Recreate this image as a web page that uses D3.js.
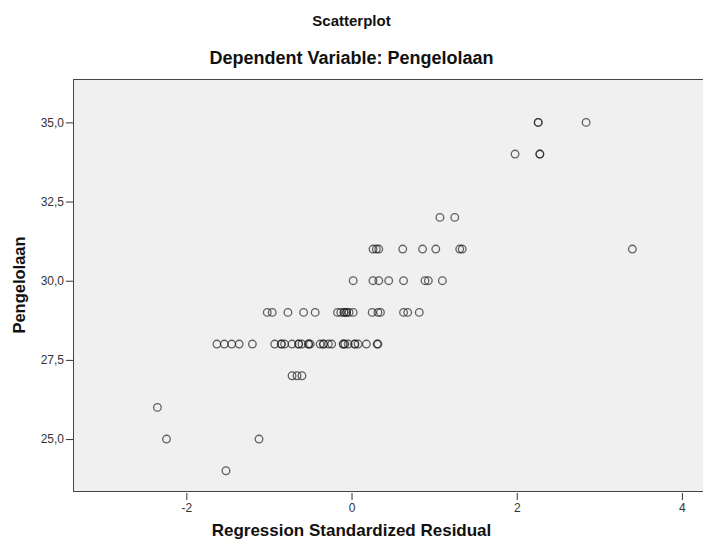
<!DOCTYPE html>
<html>
<head>
<meta charset="utf-8">
<script src="https://cdn.jsdelivr.net/npm/d3@7"></script>
<style>
  body { margin: 0; background: #fff; }
  svg { display: block; font-family: "Liberation Sans", Arial, sans-serif; }
</style>
</head>
<body>
<svg id="chart" width="703" height="542"></svg>
<script>
// values: standardized residual vs Pengelolaan
const residuals = [
  2.26, 2.26, 2.84,
  1.98, 2.28, 2.28,
  1.07, 1.25,
  0.26, 0.30, 0.33, 0.62, 0.86, 1.02, 1.31, 1.34, 3.40,
  0.02, 0.26, 0.33, 0.45, 0.63, 0.89, 0.93, 1.10,
  -1.02, -0.96, -0.77, -0.58, -0.44, -0.17, -0.13, -0.09, -0.09, -0.06, -0.06, -0.03, 0.02, 0.25, 0.32, 0.35, 0.63, 0.68, 0.82,
  -1.63, -1.54, -1.45, -1.36, -1.20, -0.93, -0.85, -0.85, -0.81, -0.72, -0.64, -0.64, -0.60, -0.52, -0.52, -0.50,
  -0.38, -0.34, -0.34, -0.28, -0.24, -0.10, -0.10, -0.08, -0.04, 0.04, 0.04, 0.08, 0.18, 0.31, 0.32,
  -0.72, -0.66, -0.60,
  -2.35,
  -2.24, -1.12,
  -1.52
];
const pengelolaan = [
  35, 35, 35,
  34, 34, 34,
  32, 32,
  31, 31, 31, 31, 31, 31, 31, 31, 31,
  30, 30, 30, 30, 30, 30, 30, 30,
  29, 29, 29, 29, 29, 29, 29, 29, 29, 29, 29, 29, 29, 29, 29, 29, 29, 29, 29,
  28, 28, 28, 28, 28, 28, 28, 28, 28, 28, 28, 28, 28, 28, 28, 28,
  28, 28, 28, 28, 28, 28, 28, 28, 28, 28, 28, 28, 28, 28, 28,
  27, 27, 27,
  26,
  25, 25,
  24
];
const xTicks = [-2, 0, 2, 4];
const yTicks = [25, 27.5, 30, 32.5, 35];

const chartTitle = "Scatterplot";
const chartSubtitle = "Dependent Variable: Pengelolaan";
const xTitle = "Regression Standardized Residual";
const yTitle = "Pengelolaan";

const box = { left: 73, top: 79, right: 710, bottom: 491 };

const svg = d3.select("#chart");

const x = d3.scaleLinear().domain([-3.372, 4.34]).range([box.left, box.right]);
const y = d3.scaleLinear().domain([23.36, 36.37]).range([box.bottom, box.top]);

const comma = d3.formatLocale({ decimal: ",", thousands: ".", grouping: [3], currency: ["", ""], minus: "-" });
const fmtY = comma.format(".1f");
const fmtX = comma.format("d");

// plot area
svg.append("rect")
  .attr("x", box.left + 0.5)
  .attr("y", box.top + 0.5)
  .attr("width", box.right - box.left)
  .attr("height", box.bottom - box.top)
  .attr("fill", "#f0f0f0")
  .attr("stroke", "#444")
  .attr("stroke-width", 1);

// axes
const xAxis = svg.append("g")
  .attr("transform", `translate(0,${box.bottom + 2})`)
  .call(d3.axisBottom(x).tickValues(xTicks).tickSize(7).tickPadding(3).tickFormat(fmtX));

const yAxis = svg.append("g")
  .attr("transform", `translate(${box.left},0)`)
  .call(d3.axisLeft(y).tickValues(yTicks).tickSize(7).tickPadding(2).tickFormat(fmtY));

[xAxis, yAxis].forEach(g => {
  g.select(".domain").remove();
  g.selectAll(".tick line").attr("stroke", "#333");
  g.selectAll(".tick text")
    .attr("fill", "#333")
    .style("font-size", "12px")
    .style("font-family", "'Liberation Sans', Arial, sans-serif");
});

// points
svg.append("g")
  .selectAll("circle")
  .data(residuals.map((r, i) => ({ r, v: pengelolaan[i] })))
  .join("circle")
  .attr("cx", d => x(d.r))
  .attr("cy", d => y(d.v))
  .attr("r", 3.8)
  .attr("fill", "none")
  .attr("stroke", "#222")
  .attr("stroke-opacity", 0.7)
  .attr("stroke-width", 1.3);

// titles
svg.append("text")
  .attr("x", 351.5).attr("y", 26)
  .attr("text-anchor", "middle")
  .style("font-size", "15px").style("font-weight", "bold")
  .attr("fill", "#111")
  .text(chartTitle);

svg.append("text")
  .attr("x", 351.5).attr("y", 64)
  .attr("text-anchor", "middle")
  .style("font-size", "18px").style("font-weight", "bold")
  .attr("fill", "#111")
  .text(chartSubtitle);

svg.append("text")
  .attr("x", 351.5).attr("y", 536)
  .attr("text-anchor", "middle")
  .style("font-size", "17px").style("font-weight", "bold")
  .attr("fill", "#111")
  .text(xTitle);

svg.append("text")
  .attr("transform", `translate(25,${(box.top + box.bottom) / 2}) rotate(-90)`)
  .attr("text-anchor", "middle")
  .style("font-size", "16.5px").style("font-weight", "bold")
  .attr("fill", "#111")
  .text(yTitle);
</script>
</body>
</html>
